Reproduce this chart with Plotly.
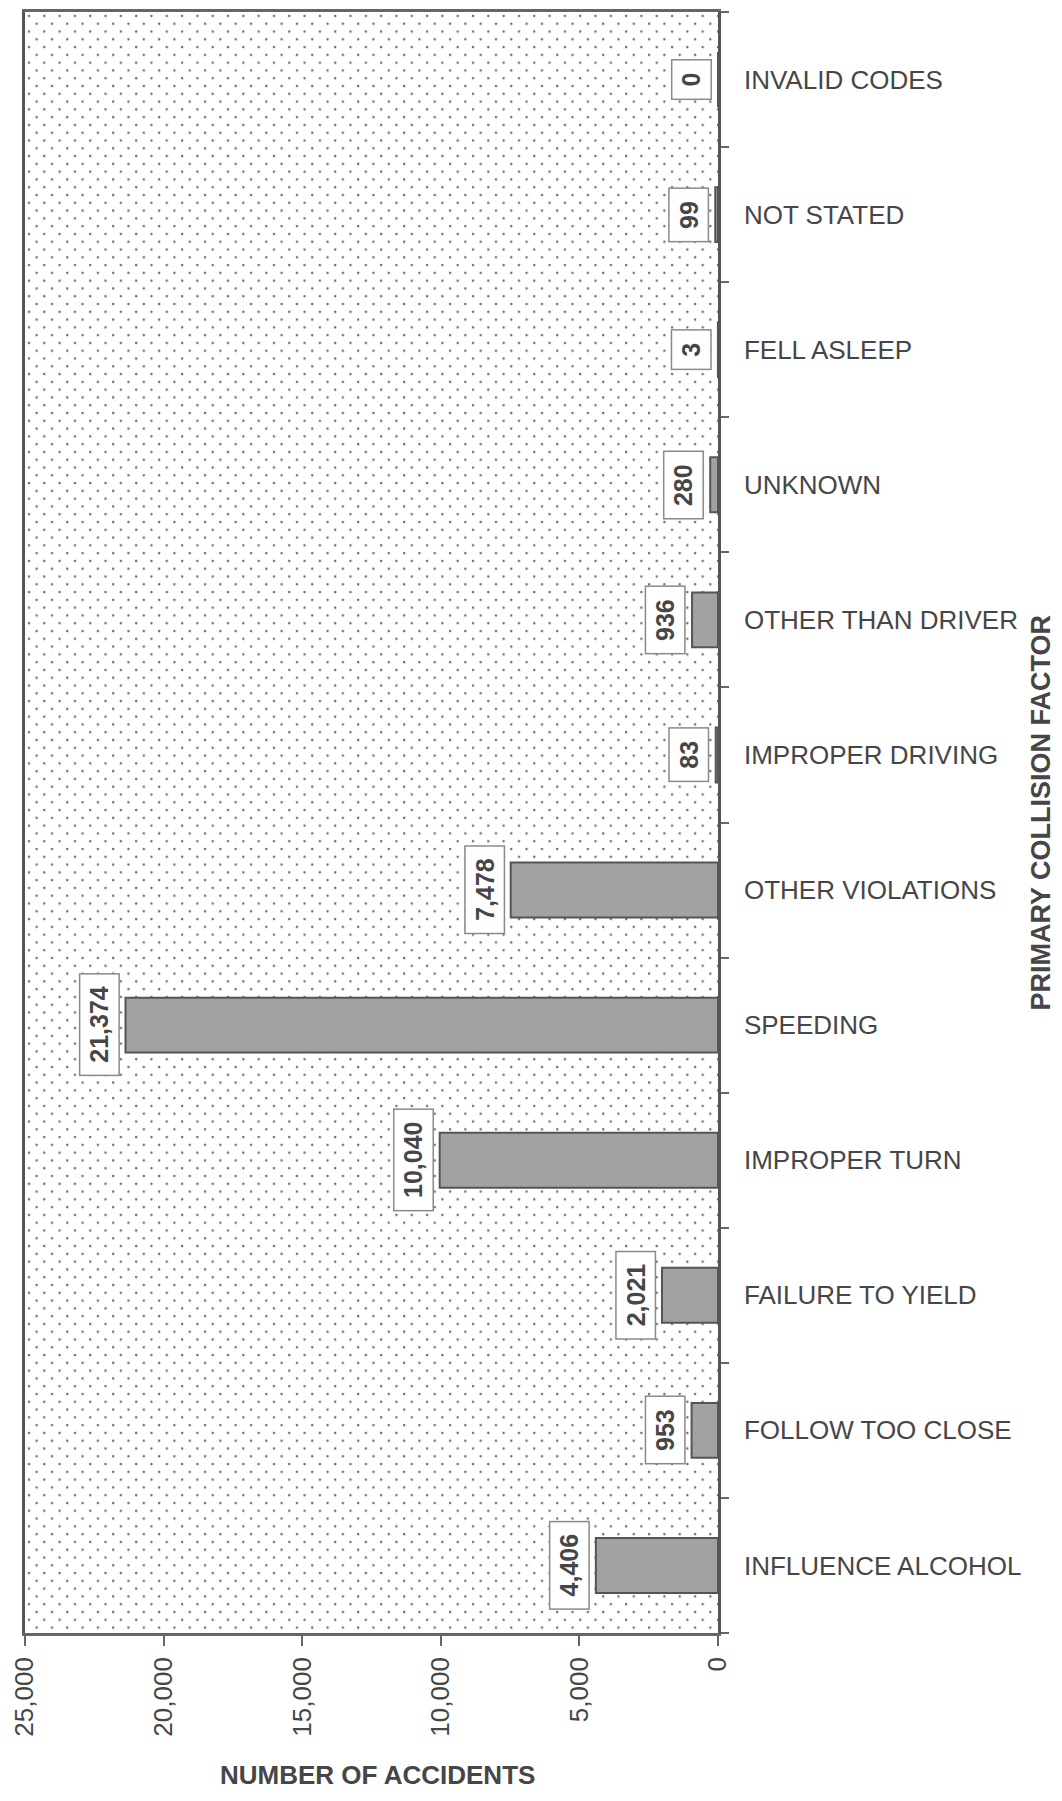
import base64
import plotly.graph_objects as go

categories = ["INFLUENCE ALCOHOL", "FOLLOW TOO CLOSE", "FAILURE TO YIELD", "IMPROPER TURN",
              "SPEEDING", "OTHER VIOLATIONS", "IMPROPER DRIVING", "OTHER THAN DRIVER",
              "UNKNOWN", "FELL ASLEEP", "NOT STATED", "INVALID CODES"]
accidents = [4406, 953, 2021, 10040, 21374, 7478, 83, 936, 280, 3, 99, 0]
x_ticks = [0, 5000, 10000, 15000, 20000, 25000]

# page body has an 8px margin, so the figure is sized to fit inside the window
W, H = 1046, 1785
ML, MT = 13, 1
PW, PH = 697, 1624
MR, MB = W - ML - PW, H - MT - PH

FONT = "Liberation Sans, Arial, sans-serif"
TXT = "#464646"

svg = (f'<svg xmlns="http://www.w3.org/2000/svg" width="{PW}" height="{PH}" '
       f'viewBox="0 0 {PW} {PH}" preserveAspectRatio="none">'
       '<defs><pattern id="p" width="15.4" height="15.6" patternUnits="userSpaceOnUse">'
       '<circle cx="4" cy="4" r="1.25" fill="#6e6e6e"/>'
       '<circle cx="11.7" cy="11.8" r="1.25" fill="#6e6e6e"/></pattern></defs>'
       '<rect width="100%" height="100%" fill="white"/>'
       '<rect width="100%" height="100%" fill="url(#p)"/></svg>')
uri = "data:image/svg+xml;base64," + base64.b64encode(svg.encode()).decode()

fig = go.Figure()
fig.add_trace(go.Bar(
    x=accidents, y=categories, orientation="h",
    marker=dict(color="#a2a2a2", line=dict(color="#555555", width=2)),
    hoverinfo="skip",
))

for c, v in zip(categories, accidents):
    fig.add_annotation(
        x=v, y=c, xref="x", yref="y",
        text=f"\u00a0{v:,}\u00a0", showarrow=False, textangle=-90,
        xanchor="right", yanchor="middle", xshift=-6,
        font=dict(family=FONT, size=25, color=TXT, weight="bold"),
        bgcolor="white", bordercolor="#8a8a8a", borderwidth=1.5, borderpad=5,
    )

# axis titles
fig.add_annotation(
    x=0.5, y=0, xref="paper", yref="paper", xanchor="center", yanchor="top",
    xshift=6, yshift=-125, showarrow=False, text="NUMBER OF ACCIDENTS",
    font=dict(family=FONT, size=26, color=TXT, weight="bold"),
)
fig.add_annotation(
    x=1, y=0.5, xref="paper", yref="paper", xanchor="center", yanchor="middle",
    xshift=322, yshift=10, textangle=-90, showarrow=False, text="PRIMARY COLLISION FACTOR",
    font=dict(family=FONT, size=27, color=TXT, weight="bold"),
)

fig.update_layout(
    width=W, height=H,
    margin=dict(l=ML, r=MR, t=MT, b=MB),
    paper_bgcolor="white", plot_bgcolor="rgba(0,0,0,0)",
    bargap=0.594, showlegend=False,
    font=dict(family=FONT, color=TXT),
    images=[dict(source=uri, xref="paper", yref="paper", x=0, y=1, sizex=1, sizey=1,
                 xanchor="left", yanchor="top", sizing="stretch", layer="below")],
    xaxis=dict(
        range=[25000, 0], tickvals=x_ticks, tickformat=",d", tickangle=-90,
        ticks="outside", ticklen=10, tickcolor="#666", tickwidth=1.5,
        ticklabelstandoff=1, ticklabeloverflow="allow",
        tickfont=dict(family=FONT, size=26, color=TXT),
        showgrid=False, zeroline=False,
        showline=True, mirror=True, linecolor="#666", linewidth=2.5,
    ),
    yaxis=dict(
        side="right", type="category", categoryorder="array", categoryarray=categories,
        ticks="outside", tickson="boundaries", ticklen=8, tickcolor="#666", tickwidth=1.5,
        ticklabelstandoff=18,
        tickfont=dict(family=FONT, size=26, color=TXT),
        showgrid=False, zeroline=False,
        showline=True, mirror=True, linecolor="#555", linewidth=2.5,
    ),
)

fig.write_html("out.html")
